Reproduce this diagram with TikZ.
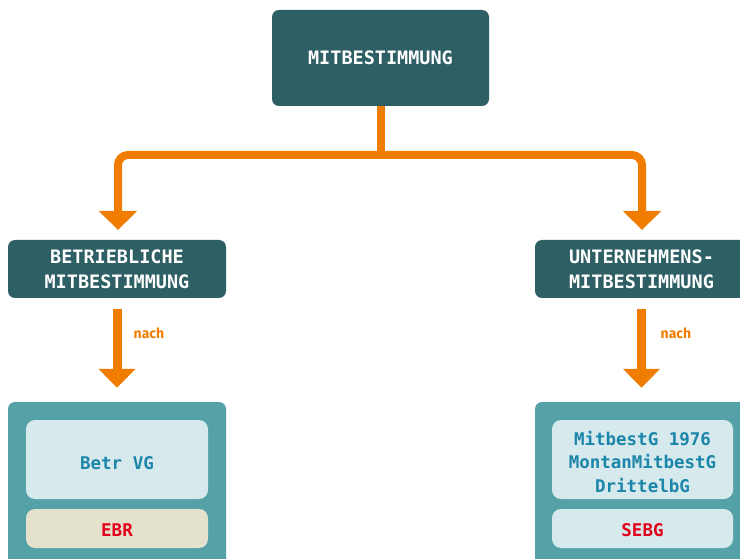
\documentclass[tikz,border=0pt]{standalone}
\usepackage{fontspec}
\setmainfont{Fira Sans}
\setmonofont{DejaVu Sans Mono}
\usetikzlibrary{arrows.meta}

\definecolor{tealdark}{HTML}{2E5F65}
\definecolor{tealmid}{HTML}{55A1A8}
\definecolor{paleblue}{HTML}{D6E9EC}
\definecolor{beige}{HTML}{E4E1CC}
\definecolor{lawblue}{HTML}{1C86AA}
\definecolor{lawred}{HTML}{E3001B}
\definecolor{arroworange}{HTML}{F07D00}

\tikzset{
  headbox/.style={fill=tealdark, text=white, rounded corners=7pt, inner sep=0pt,
    align=center, font=\ttfamily\bfseries\fontsize{18.5}{25}\selectfont},
  container/.style={fill=tealmid, rounded corners=7pt, inner sep=0pt},
  lawbox/.style={fill=paleblue, rounded corners=9pt, inner sep=0pt},
  lawtext/.style={align=center, text=lawblue,
    font=\ttfamily\bfseries\fontsize{17.5}{23.5}\selectfont},
  redtext/.style={lawtext, text=lawred},
  branch/.style={draw=arroworange, line width=8pt, rounded corners=10pt,
    -{Triangle[width=37pt,length=19pt]}},
  stem/.style={draw=arroworange, line width=8pt},
  nacharrow/.style={draw=arroworange, line width=9pt,
    -{Triangle[width=36pt,length=19pt]}},
  nachlabel/.style={text=arroworange, font=\bfseries\fontsize{14}{16}\selectfont}
}

\begin{document}
\begin{tikzpicture}[x=1pt,y=-1pt]
  \useasboundingbox (0,0) rectangle (740,559);
  \clip (0,0) rectangle (740,559);

  % top level
  \node[headbox, minimum width=217pt, minimum height=96pt] (top) at (380.5,58) {MITBESTIMMUNG};

  % second level
  \node[headbox, minimum width=218pt, minimum height=58pt] (betr) at (117,269)
    {BETRIEBLICHE\\MITBESTIMMUNG};
  \node[headbox, minimum width=213pt, minimum height=58pt] (unt) at (641.5,269)
    {UNTERNEHMENS-\\MITBESTIMMUNG};

  % branching connector
  \coordinate (split) at (380.5,155);
  \coordinate (tipL) at (118,230);
  \coordinate (tipR) at (642,230);
  \draw[stem] (top.south) -- ([yshift=-4pt]split);
  \draw[branch] (split) -| (tipL);
  \draw[branch] (split) -| (tipR);

  % law containers
  \node[container, minimum width=218pt, minimum height=168pt] (leftc) at (117,486) {};
  \node[container, minimum width=213pt, minimum height=168pt] (rightc) at (641.5,486) {};

  \node[lawbox, minimum width=182pt, minimum height=79pt] (betrvg) at (117,459.5) {};
  \node[lawtext] (betrvgtext) at (117,463) {Betr VG};
  \node[lawbox, fill=beige, minimum width=182pt, minimum height=39pt] (ebr) at (117,528.5) {};
  \node[redtext] (ebrtext) at (117,530) {EBR};

  \node[lawbox, minimum width=181pt, minimum height=79pt] (mitb) at (642.5,459.5) {};
  \node[lawtext] (mitbtext) at (642.5,462) {MitbestG 1976\\MontanMitbestG\\DrittelbG};
  \node[lawbox, minimum width=181pt, minimum height=39pt] (sebg) at (642.5,528.5) {};
  \node[redtext] (sebgtext) at (642.5,530) {SEBG};

  % "nach" arrows
  \draw[nacharrow] ([yshift=-11pt]betr.south) -- ([yshift=14pt]leftc.north);
  \draw[nacharrow] ([yshift=-11pt]unt.south) -- ([yshift=14pt]rightc.north);
  \node[nachlabel] (nachL) at (149,333) {nach};
  \node[nachlabel] (nachR) at (676,333) {nach};
\end{tikzpicture}
\end{document}
